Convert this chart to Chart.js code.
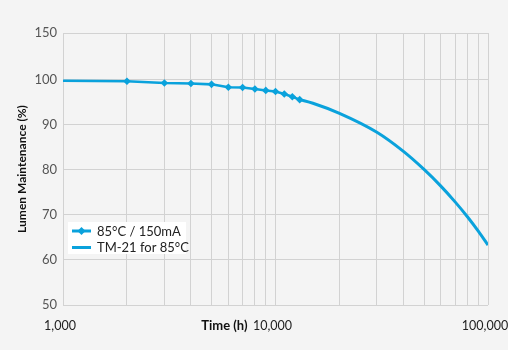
<!DOCTYPE html>
<html>
<head>
<meta charset="utf-8">
<script src="https://cdn.jsdelivr.net/npm/chart.js@4/dist/chart.umd.min.js"></script>
<style>
  html, body { margin: 0; padding: 0; background: #f4f4f4; }
  canvas { display: block; }
</style>
</head>
<body>
<canvas id="grafica" width="508" height="350"></canvas>
<script>
// datos
var medHoras = [1000, 2000, 3000, 4000, 5000, 6000, 7000, 8000, 9000, 10000, 11000, 12000, 13000];
var medValores = [99.8, 99.7, 99.3, 99.2, 99.0, 98.35, 98.3, 97.95, 97.65, 97.4, 96.85, 96.25, 95.6];
var tmHoras = [13000, 15000, 20000, 30000, 40000, 50000, 60000, 70000, 80000, 90000, 100000];
var tmValores = [95.6, 94.8, 92.55, 88.35, 84.1, 80.1, 76.4, 72.9, 69.6, 66.4, 63.3];

var serieNombres = ["85°C / 150mA", "TM-21 for 85°C"];
var xEtiquetas = {1000: "1,000", 10000: "10,000", 100000: "100,000"};
var yValoresTick = [50, 60, 70, 80, 90, 100, 110.4];
var yEtiquetas = ["50", "60", "70", "80", "90", "100", "150"];
var xTitulo = "Time (h)";
var yTitulo = "Lumen Maintenance (%)";

var azul = "#0aa2dc";
var fuente = "Lato, 'Open Sans', sans-serif";

function puntos(xs, ys) {
  var arr = [];
  for (var i = 0; i < xs.length; i++) {
    arr.push({ x: xs[i], y: ys[i] });
  }
  return arr;
}

// radio de los marcadores: el primer punto sin marcador
var radios = medHoras.map(function (h, i) { return i == 0 ? 0 : 3.8; });

var fondo = {
  id: 'fondo',
  beforeDraw: function (chart) {
    var c = chart.ctx;
    c.save();
    c.fillStyle = "#f4f4f4";
    c.fillRect(0, 0, chart.width, chart.height);
    c.restore();
  }
};

// titulo del eje x junto a la etiqueta 10,000 y leyenda dentro del grafico
var extras = {
  id: 'extras',
  afterDraw: function (chart) {
    var c = chart.ctx;
    var xs = chart.scales.x;
    var area = chart.chartArea;
    c.save();
    c.font = "bold 13px " + fuente;
    c.fillStyle = "#111";
    c.textAlign = "right";
    c.textBaseline = "middle";
    c.fillText(xTitulo, xs.getPixelForValue(10000) - 28, area.bottom + 21);

    // leyenda
    var lx = area.left + 5, ly = area.bottom - 83;
    c.fillStyle = "#ffffff";
    c.fillRect(lx, ly, 118, 32);
    c.font = "13px " + fuente;
    c.fillStyle = "#222";
    c.textAlign = "left";
    for (var i = 0; i < serieNombres.length; i++) {
      var y = ly + 9 + i * 16.5;
      c.strokeStyle = azul;
      c.lineWidth = 3;
      c.beginPath();
      c.moveTo(lx + 4, y);
      c.lineTo(lx + 23, y);
      c.stroke();
      if (i == 0) {
        c.fillStyle = azul;
        c.beginPath();
        c.moveTo(lx + 13.5, y - 4);
        c.lineTo(lx + 17.5, y);
        c.lineTo(lx + 13.5, y + 4);
        c.lineTo(lx + 9.5, y);
        c.closePath();
        c.fill();
        c.fillStyle = "#222";
      }
      c.fillText(serieNombres[i], lx + 29, y + 0.5);
    }
    c.restore();
  }
};

var ctx = document.getElementById('grafica').getContext('2d');
var myChart = new Chart(ctx, {
  type: 'line',
  data: {
    datasets: [
      {
        label: serieNombres[0],
        data: puntos(medHoras, medValores),
        borderColor: azul,
        backgroundColor: azul,
        borderWidth: 2.6,
        pointStyle: 'rectRot',
        pointRadius: radios,
        pointBorderWidth: 0,
        tension: 0
      },
      {
        label: serieNombres[1],
        data: puntos(tmHoras, tmValores),
        borderColor: azul,
        backgroundColor: azul,
        borderWidth: 3,
        pointRadius: 0,
        cubicInterpolationMode: 'monotone'
      }
    ]
  },
  options: {
    responsive: false,
    animation: false,
    layout: { padding: { top: 33, right: 20, left: 0, bottom: 0 } },
    plugins: {
      legend: { display: false },
      tooltip: { enabled: false }
    },
    scales: {
      x: {
        type: 'logarithmic',
        min: 1000,
        max: 100000,
        afterBuildTicks: function (scale) {
          var t = [];
          for (var d = 1000; d < 100000; d *= 10) {
            for (var k = 1; k < 10; k++) t.push({ value: d * k });
          }
          t.push({ value: 100000 });
          scale.ticks = t;
        },
        afterFit: function (scale) {
          scale.height = 45;
          scale.paddingRight = 0;
          scale.paddingLeft = 0;
        },
        grid: { color: "#d2d2d2", drawTicks: false },
        border: { display: false },
        ticks: {
          autoSkip: false,
          maxRotation: 0,
          padding: 13,
          labelOffset: -3,
          color: "#222",
          font: { family: fuente, size: 12.5 },
          callback: function (v) { return xEtiquetas[v] || ""; }
        }
      },
      y: {
        min: 50,
        max: 110.4,
        afterBuildTicks: function (scale) {
          scale.ticks = yValoresTick.map(function (v) { return { value: v }; });
        },
        afterFit: function (scale) { scale.width = 63; },
        grid: { color: "#d2d2d2", drawTicks: false },
        border: { display: false },
        ticks: {
          padding: 6,
          color: "#555",
          font: { family: fuente, size: 13 },
          callback: function (v, i) { return yEtiquetas[i]; }
        },
        title: {
          display: true,
          text: yTitulo,
          color: "#111",
          padding: { top: 15, bottom: 0 },
          font: { family: fuente, size: 12, weight: 'bold' }
        }
      }
    }
  },
  plugins: [fondo, extras]
});
</script>
</body>
</html>
